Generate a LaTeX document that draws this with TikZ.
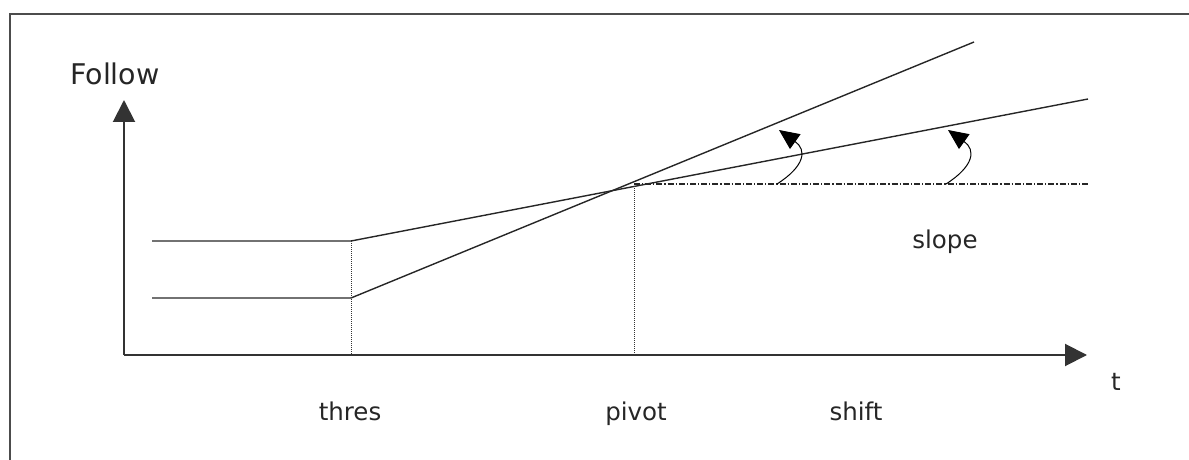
\documentclass[tikz,border=0pt]{standalone}
\usepackage{fontspec}
\setmainfont{DejaVu Sans}
\usetikzlibrary{arrows.meta}

\begin{document}
\begin{tikzpicture}[
  x=0.5pt, y=-0.5pt,
  font=\fontsize{12.25}{14}\selectfont,
  >={Triangle[length=11pt,width=11pt]},
  frame/.style={line width=1pt, black!70},
  axis/.style={->, line width=1pt, black!80},
  curve/.style={line width=0.7pt, black!85},
  guide/.style={line width=0.5pt, black!80, dash pattern=on 0.5pt off 0.5pt},
  level/.style={line width=0.6pt, black!85,
                dash pattern=on 3pt off 1pt on 0.6pt off 1pt},
  turn/.style={-{Triangle[length=10pt,width=9pt]}, line width=0.5pt, black},
  lbl/.style={anchor=base, inner sep=0pt, text=black!85},
]
\useasboundingbox (0,0) rectangle (1189,460);
\draw[frame] (10,460) -- (10,14) -- (1189,14);

\coordinate (origin)   at (124,355);
\coordinate (ytop)     at (124,100);
\coordinate (xend)     at (1087,355);
\coordinate (hiL)      at (152,241);
\coordinate (hiT)      at (351,241);
\coordinate (loL)      at (152,298);
\coordinate (loT)      at (351,298);
\coordinate (thresB)   at (351,355);
\coordinate (pivot)    at (634,184);
\coordinate (pivotB)   at (634,355);
\coordinate (steepE)   at (974,42);
\coordinate (shallowE) at (1088,99);
\coordinate (levelE)   at (1088,184);
\coordinate (turnAs)   at (777,184);
\coordinate (turnAe)   at (779,130);
\coordinate (turnBs)   at (946,184);
\coordinate (turnBe)   at (948,130);

\node[lbl, anchor=base east, font=\fontsize{14.25}{16}\selectfont]
     (follow) at (160,85) {Follow};
\node[lbl] (thres)    at (350,420)  {thres};
\node[lbl] (pivotlbl) at (636,420)  {pivot};
\node[lbl] (shift)    at (856,420)  {shift};
\node[lbl] (tlbl)     at (1116,390) {t};
\node[lbl] (slope)    at (945,248)  {slope};

\draw[axis] (origin) -- (ytop);
\draw[axis] (origin) -- (xend);
\draw[curve] (hiL) -- (hiT) -- (shallowE);
\draw[curve] (loL) -- (loT) -- (steepE);
\draw[guide] (hiT) -- (thresB);
\draw[guide] (pivot) -- (pivotB);
\draw[level] (pivot) -- (levelE);
\draw[turn] (turnAs) .. controls +(28,-18) and +(28,20) .. (turnAe);
\draw[turn] (turnBs) .. controls +(28,-18) and +(28,20) .. (turnBe);
\end{tikzpicture}
\end{document}
